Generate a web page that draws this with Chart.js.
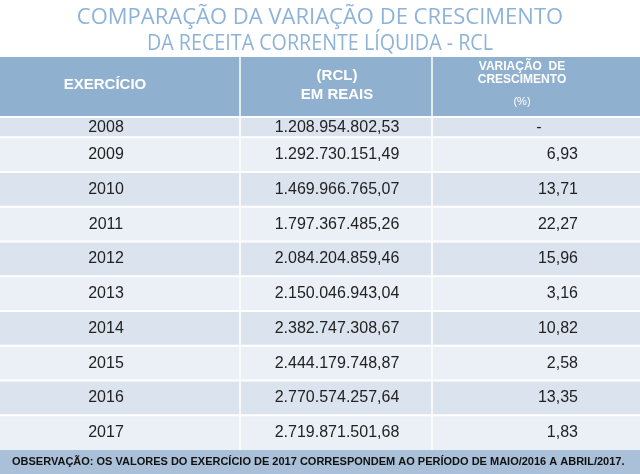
<!DOCTYPE html>
<html><head><meta charset="utf-8">
<script src="https://cdn.jsdelivr.net/npm/chart.js@4"></script>
<style>html,body{margin:0;background:#fff}#c{display:block}</style>
</head><body>
<div style="width:640px;height:474px"><canvas id="c"></canvas></div>
<script>
// table data
const titleLines = ['COMPARAÇÃO DA VARIAÇÃO DE CRESCIMENTO', 'DA RECEITA CORRENTE LÍQUIDA - RCL'];
const years = ['2008', '2009', '2010', '2011', '2012', '2013', '2014', '2015', '2016', '2017'];
const rclValues = ['1.208.954.802,53', '1.292.730.151,49', '1.469.966.765,07', '1.797.367.485,26', '2.084.204.859,46',
  '2.150.046.943,04', '2.382.747.308,67', '2.444.179.748,87', '2.770.574.257,64', '2.719.871.501,68'];
const growth = ['-', '6,93', '13,71', '22,27', '15,96', '3,16', '10,82', '2,58', '13,35', '1,83'];
const note = 'OBSERVAÇÃO: OS VALORES DO EXERCÍCIO DE 2017 CORRESPONDEM AO PERÍODO DE MAIO/2016 A ABRIL/2017.';

// row heights in row units: header, rows..., footer
const rowSpans = [1.73, 0.58, 1, 1, 1, 1, 1, 1, 1, 1, 1, 0.69];
const colEdges = [0, 240, 432, 640];

const tablePlugin = {
  id: 'table',
  afterDraw(chart) {
    const ctx = chart.ctx, xs = chart.scales.x, ys = chart.scales.y;
    const X = v => xs.getPixelForValue(v), Y = v => ys.getPixelForValue(v);
    const W = X(colEdges[3]) - X(0);
    let edges = [0];
    rowSpans.forEach(s => edges.push(edges[edges.length - 1] + s));
    ctx.save();
    // backgrounds
    for (let i = 0; i < rowSpans.length; i++) {
      let fill;
      if (i === 0) fill = '#8fb0cf';
      else if (i === rowSpans.length - 1) fill = '#a9c0d8';
      else fill = (i % 2 === 1) ? '#dbe4ee' : '#ebf0f6';
      ctx.fillStyle = fill;
      ctx.fillRect(X(0), Y(edges[i]), W, Y(edges[i + 1]) - Y(edges[i]));
    }
    // white grid
    ctx.strokeStyle = '#ffffff';
    ctx.lineWidth = 2;
    for (let i = 1; i < rowSpans.length - 1; i++) {
      ctx.beginPath(); ctx.moveTo(X(0), Y(edges[i])); ctx.lineTo(X(640), Y(edges[i])); ctx.stroke();
    }
    ctx.lineWidth = 1.5;
    [1, 2].forEach(c => {
      ctx.beginPath(); ctx.moveTo(X(colEdges[c]), Y(0)); ctx.lineTo(X(colEdges[c]), Y(edges[rowSpans.length - 1])); ctx.stroke();
    });
    // header text
    const mid = i => Y((edges[i] + edges[i + 1]) / 2);
    const hy = mid(0);
    ctx.fillStyle = '#ffffff';
    ctx.textAlign = 'center'; ctx.textBaseline = 'middle';
    ctx.font = 'bold 15px "Liberation Sans", Arial, sans-serif';
    ctx.fillText('EXERCÍCIO', X(105), hy - 2);
    ctx.fillText('(RCL)', X(337), hy - 11);
    ctx.fillText('EM REAIS', X(337), hy + 8);
    ctx.font = 'bold 12px "Liberation Sans", Arial, sans-serif';
    ctx.fillText('VARIAÇÃO  DE', X(522), hy - 20);
    ctx.fillText('CRESCIMENTO', X(522), hy - 7);
    ctx.font = '11px "Liberation Sans", Arial, sans-serif';
    ctx.fillText('(%)', X(522), hy + 15);
    // body
    ctx.fillStyle = '#222222';
    ctx.font = '16px "Liberation Sans", Arial, sans-serif';
    years.forEach((yr, k) => {
      const y = mid(k + 1);
      ctx.textAlign = 'center';
      ctx.fillText(yr, X(106), y);
      ctx.fillText(rclValues[k], X(337), y);
      if (growth[k] === '-') ctx.fillText('-', X(539), y);
      else { ctx.textAlign = 'right'; ctx.fillText(growth[k], X(578), y); }
    });
    // footnote
    ctx.fillStyle = '#111111';
    ctx.textAlign = 'left';
    ctx.font = 'bold 11px "Liberation Sans", Arial, sans-serif';
    ctx.fillText(note, X(12), mid(rowSpans.length - 1), 616);
    // title
    ctx.fillStyle = '#8db3da';
    ctx.textAlign = 'center';
    ctx.font = '22px "Open Sans", sans-serif';
    ctx.fillText(titleLines[0], 320, 18, 494);
    ctx.fillText(titleLines[1], 320, 44, 346);
    ctx.restore();
  }
};

const total = rowSpans.reduce((a, b) => a + b, 0);
new Chart(document.getElementById('c'), {
  type: 'scatter',
  data: { datasets: [{ data: [] }] },
  options: {
    responsive: true,
    maintainAspectRatio: false,
    animation: false,
    layout: { padding: { top: 57, left: 0, right: 0, bottom: 0 } },
    plugins: { legend: { display: false }, tooltip: { enabled: false } },
    scales: {
      x: { type: 'linear', min: 0, max: 640, display: false },
      y: { type: 'linear', min: 0, max: total, reverse: true, display: false }
    }
  },
  plugins: [tablePlugin]
});
</script>
</body></html>
